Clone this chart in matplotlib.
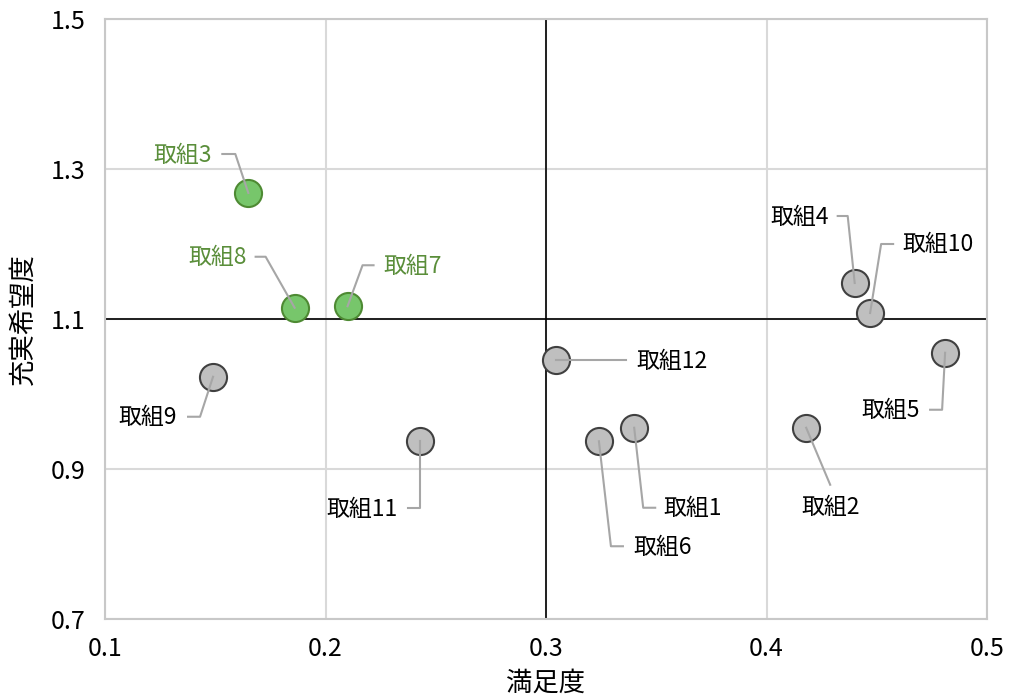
import matplotlib
matplotlib.use("Agg")
import matplotlib.pyplot as plt
from matplotlib.transforms import IdentityTransform

plt.rcParams['font.family'] = ['Noto Sans CJK JP', 'DejaVu Sans']

# ---- data ----
names = ["取組1", "取組2", "取組3", "取組4", "取組5", "取組6",
         "取組7", "取組8", "取組9", "取組10", "取組11", "取組12"]
satisfaction = [0.340, 0.418, 0.165, 0.440, 0.481, 0.324,
                0.210, 0.186, 0.149, 0.447, 0.243, 0.3045]
hope = [0.955, 0.955, 1.268, 1.148, 1.055, 0.937,
        1.117, 1.115, 1.023, 1.108, 0.937, 1.045]
highlight = [False, False, True, False, False, False,
             True, True, False, False, False, False]

x_ticks = [0.1, 0.2, 0.3, 0.4, 0.5]
y_ticks = [0.7, 0.9, 1.1, 1.3, 1.5]
x_cross = 0.3
y_cross = 1.1
x_label = "満足度"
y_label = "充実希望度"

# label layout: pixel offsets from point (dx right, dy down)
elbow_off = [(9, 80), (24, 57), (-13, -39), (-7, -67), (-3, 57), (12, 105),
             (15, -41), (-29, -51), (-13, 40), (11, -69), (0, 67), (0, 0)]
stub_off = [(21, 80), None, (-26, -39), (-17, -67), (-15, 57), (24, 105),
            (26, -41), (-39, -51), (-25, 40), (23, -69), (-12, 67), (70, 0)]
text_off = [(29, 81), (24, 80), (-36, -38), (-26, -66), (-25, 58), (34, 106),
            (36, -40), (-48, -50), (-36, 41), (32, -68), (-23, 68), (80, 1)]
text_ha = ["left", "center", "right", "right", "right", "left",
           "left", "right", "right", "left", "right", "left"]

W, H = 1011, 697
fig = plt.figure(figsize=(W / 100, H / 100), dpi=100)
ax = fig.add_axes([105 / W, (H - 619) / H, 882 / W, 600 / H])

ax.set_xlim(x_ticks[0], x_ticks[-1])
ax.set_ylim(y_ticks[0], y_ticks[-1])
ax.set_xticks(x_ticks)
ax.set_yticks(y_ticks)
ax.set_xticklabels([f"{v:.1f}" for v in x_ticks], fontsize=18)
ax.set_yticklabels([f"{v:.1f}" for v in y_ticks], fontsize=18)
ax.tick_params(axis='x', length=0, pad=12)
ax.tick_params(axis='y', length=0, pad=14)

for s in ax.spines.values():
    s.set_color("#C8C8C8")
    s.set_linewidth(1.5)

ax.grid(True, color="#D9D9D9", linewidth=1.5, zorder=0)
ax.set_axisbelow(True)
ax.axvline(x_cross, color="black", linewidth=1.2, zorder=1)
ax.axhline(y_cross, color="black", linewidth=1.2, zorder=1)

ax.set_xlabel(x_label, fontsize=19, labelpad=6)
ax.set_ylabel(y_label, fontsize=19, labelpad=10)

gray_fill, gray_edge = "#BFBFBF", "#404040"
green_fill, green_edge = "#77C66B", "#4E8A33"
green_text = "#5A8E3A"

for i in range(len(names)):
    fc = green_fill if highlight[i] else gray_fill
    ec = green_edge if highlight[i] else gray_edge
    ax.plot(satisfaction[i], hope[i], marker="o", markersize=19.5,
            markerfacecolor=fc, markeredgecolor=ec, markeredgewidth=1.5,
            linestyle="none", zorder=3)

fig.canvas.draw()
ident = IdentityTransform()
for i in range(len(names)):
    px, py = ax.transData.transform((satisfaction[i], hope[i]))
    pts = [(0, 0), elbow_off[i]]
    if stub_off[i] is not None:
        pts.append(stub_off[i])
    xs = [px + dx for dx, dy in pts]
    ys = [py - dy for dx, dy in pts]
    ax.plot(xs, ys, color="#A6A6A6", linewidth=1.5, transform=ident,
            zorder=4, clip_on=False)
    tx = px + text_off[i][0]
    ty = py - text_off[i][1]
    ax.text(tx, ty, names[i], transform=ident, ha=text_ha[i], va="center",
            fontsize=16.5, color=green_text if highlight[i] else "black",
            zorder=5)

fig.savefig("out.png", dpi=100)
